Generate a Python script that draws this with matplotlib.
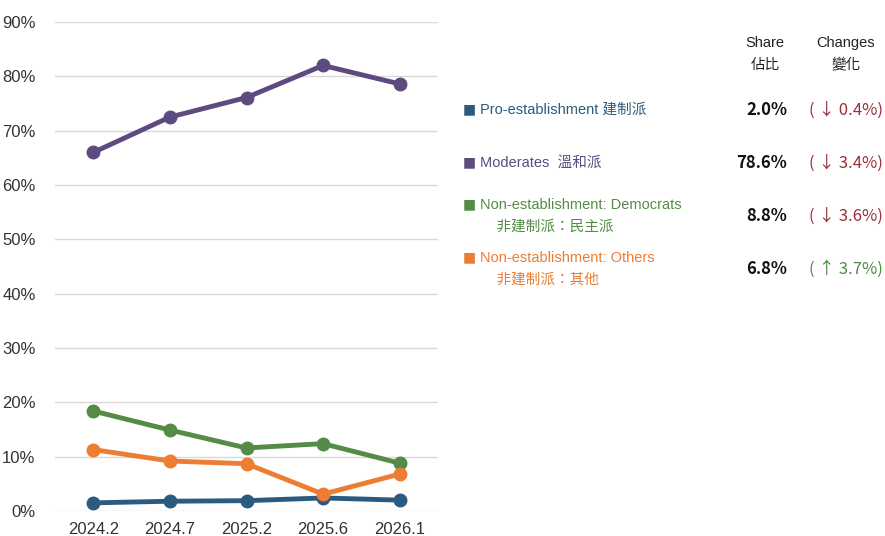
import matplotlib.pyplot as plt

plt.rcParams['font.family'] = ['Liberation Sans', 'Noto Sans CJK TC', 'DejaVu Sans']

periods = ['2024.2', '2024.7', '2025.2', '2025.6', '2026.1']
pro_est = [1.5, 1.8, 1.9, 2.4, 2.0]
moderates = [66.0, 72.5, 76.1, 82.0, 78.6]
democrats = [18.4, 14.9, 11.6, 12.4, 8.8]
others = [11.3, 9.2, 8.7, 3.1, 6.8]

names = ['Pro-establishment 建制派', 'Moderates  溫和派',
         'Non-establishment: Democrats\n    非建制派：民主派',
         'Non-establishment: Others\n    非建制派：其他']
shares = ['2.0%', '78.6%', '8.8%', '6.8%']
changes = ['( ↓ 0.4%)', '( ↓ 3.4%)', '( ↓ 3.6%)', '( ↑ 3.7%)']
colors = ['#2b5b7e', '#5d4b80', '#548b46', '#ec7d31']
change_colors = ['#9a2f3a', '#9a2f3a', '#9a2f3a', '#4e8a44']

W, H = 885, 536
fig = plt.figure(figsize=(W / 100, H / 100), dpi=100)
ax = fig.add_axes([55 / W, 1 - 511 / H, (438 - 55) / W, (511 - 22) / H])

x = range(len(periods))
for vals, c in zip([pro_est, moderates, democrats, others], colors):
    ax.plot(x, vals, color=c, lw=3.5, marker='o', ms=9, solid_capstyle='round')

ax.set_xlim(-0.5, 4.5)
ax.set_ylim(0, 90)
ax.set_yticks(range(0, 91, 10))
ax.set_yticklabels([f'{v}%' for v in range(0, 91, 10)])
ax.set_xticks(list(x))
ax.set_xticklabels(periods)
ax.grid(axis='y', color='#d9d9d9', lw=1)
ax.set_axisbelow(True)
for s in ax.spines.values():
    s.set_visible(False)
ax.tick_params(length=0, labelsize=12, colors='#333333')
ax.tick_params(axis='x', pad=8)
ax.tick_params(axis='y', pad=14)

def ft(px, py, s, **kw):
    fig.text(px / W, 1 - py / H, s, **kw)

hdr = dict(ha='center', va='center', fontsize=10.5, color='#222222')
ft(765, 43, 'Share', **hdr)
ft(765, 65, '佔比', **hdr)
ft(846, 43, 'Changes', **hdr)
ft(846, 65, '變化', **hdr)

rows = [110, 163, 216, 269]
for i, py in enumerate(rows):
    lines = names[i].split('\n')
    offs = [0] if len(lines) == 1 else [-11, 11]
    ft(463, py + offs[0] - 1, '■', ha='left', va='center', fontsize=10,
       color=colors[i], family=['DejaVu Sans'])
    for line, o in zip(lines, offs):
        ft(480, py + o, line, ha='left', va='center', fontsize=10.5, color=colors[i])
    ft(787, py, shares[i], ha='right', va='center', fontsize=12,
       color='#111111', family=['Noto Sans CJK TC'], weight='bold')
    ft(846, py, changes[i], ha='center', va='center', fontsize=12,
       color=change_colors[i], family=['Noto Sans CJK TC'])

fig.savefig('out.png', dpi=100)
